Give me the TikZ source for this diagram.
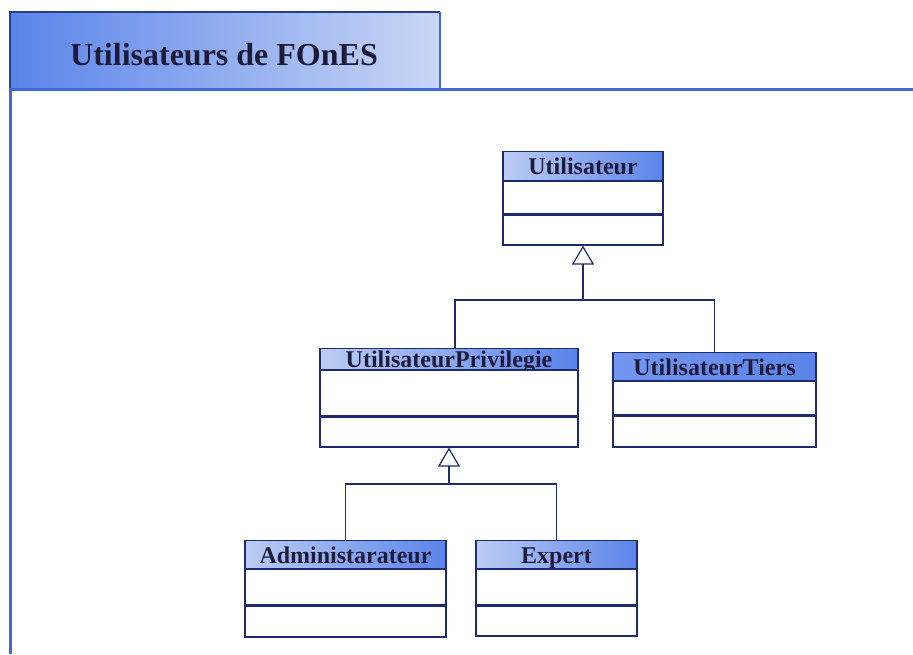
\documentclass[tikz,border=0pt]{standalone}
\usepackage{fontspec}
\setmainfont{Liberation Serif}
\usetikzlibrary{arrows.meta,calc}
\definecolor{navy}{HTML}{1E2A6E}
\definecolor{hdrblue}{HTML}{5A84EA}
\definecolor{hdrlight}{HTML}{BCCDF3}
\definecolor{frameblue}{HTML}{3F68D6}
\definecolor{textdark}{HTML}{1E1A3A}
\tikzset{
  hdr/.style={draw=navy, line width=1.2pt, left color=hdrlight, right color=hdrblue,
    text=textdark, font=\fontsize{24}{24}\selectfont\bfseries, inner sep=0pt, anchor=north,
    text height=18pt, text depth=1pt},
  comp/.style={draw=navy, line width=1.2pt, fill=white, inner sep=0pt, anchor=north},
  conn/.style={draw=navy, line width=1.2pt},
  gen/.style={conn, -{Triangle[open, length=19pt, width=22pt, line width=1.2pt]}}
}
\begin{document}
\begin{tikzpicture}[x=1pt,y=-1pt]
\useasboundingbox (0,0) rectangle (913,654);
\fill[white] (0,0) rectangle (913,654);
% title tab
\node[draw=none, left color=hdrblue, right color=hdrlight!80!white, minimum width=430pt, minimum height=76pt,
  inner sep=0pt, anchor=north west] (tab) at (10,12) {};
\draw[navy!70!frameblue, line width=1.5pt] (tab.south west) -- (tab.north west) -- (tab.north east);
\draw[frameblue, line width=2pt] (tab.north east) -- (tab.south east);
\node[text=textdark, font=\fontsize{32}{32}\selectfont\bfseries] (title) at (224,55) {Utilisateurs de FOnES};
% frame
\coordinate (fr1) at (10,654);
\coordinate (fr2) at (10,89);
\coordinate (fr3) at (913,89);
\draw[frameblue, line width=3pt] (fr1) -- (fr2) -- (fr3);

% Utilisateur
\node[hdr, minimum width=160pt, minimum height=29pt] (u) at (583,151) {Utilisateur};
\node[comp, minimum width=160pt, minimum height=32pt] (u2) at (u.south) {};
\node[comp, minimum width=160pt, minimum height=30pt] (u3) at (u2.south) {};

% UtilisateurPrivilegie
\node[hdr, minimum width=258pt, minimum height=21pt] (up) at (449,348) {UtilisateurPrivilegie};
\node[comp, minimum width=258pt, minimum height=45pt] (up2) at (up.south) {};
\node[comp, minimum width=258pt, minimum height=30pt] (up3) at (up2.south) {};

% UtilisateurTiers
\node[hdr, minimum width=203pt, minimum height=28pt, left color=hdrblue!85!white, right color=hdrblue] (ut) at (714.5,352) {UtilisateurTiers};
\node[comp, minimum width=203pt, minimum height=33pt] (ut2) at (ut.south) {};
\node[comp, minimum width=203pt, minimum height=31pt] (ut3) at (ut2.south) {};

% Administarateur
\node[hdr, minimum width=201pt, minimum height=28pt] (ad) at (345.5,540) {Administarateur};
\node[comp, minimum width=201pt, minimum height=35pt] (ad2) at (ad.south) {};
\node[comp, minimum width=201pt, minimum height=31pt] (ad3) at (ad2.south) {};

% Expert
\node[hdr, minimum width=161pt, minimum height=28pt] (ex) at (556.5,540) {Expert};
\node[comp, minimum width=161pt, minimum height=35pt] (ex2) at (ex.south) {};
\node[comp, minimum width=161pt, minimum height=30pt] (ex3) at (ex2.south) {};

% generalisations
\coordinate (j1) at (583,300);
\draw[conn] ([xshift=6pt]up.north) |- (j1);
\draw[conn] (ut.north) |- (j1);
\draw[gen] (j1) -- (u3.south);

\coordinate (j2) at (449,484);
\draw[conn] (ad.north) |- (j2);
\draw[conn] (ex.north) |- (j2);
\draw[gen] (j2) -- (up3.south);
\end{tikzpicture}
\end{document}
